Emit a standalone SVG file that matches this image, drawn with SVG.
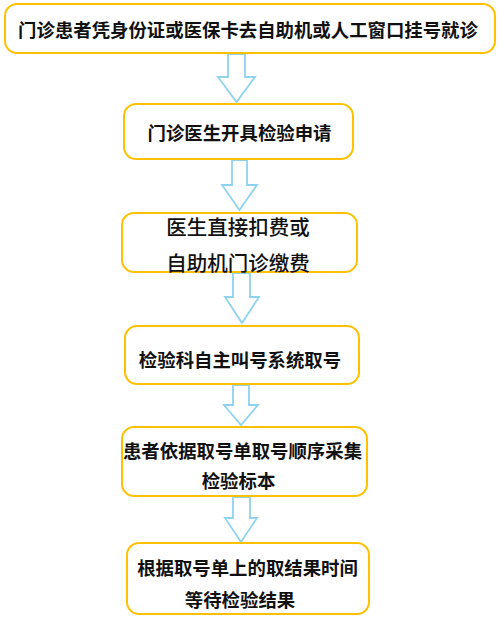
<svg xmlns="http://www.w3.org/2000/svg" width="500" height="620" viewBox="0 0 500 620">
<style>
.box{fill:#fff;stroke:#FFC000;stroke-width:2}
.arr{fill:#fff;stroke:#8ED3EE;stroke-width:1.8;stroke-linejoin:miter}
text{font-family:"Noto Sans CJK SC","Noto Sans",sans-serif;font-size:18.4px;font-weight:bold;fill:#111;text-anchor:middle;dominant-baseline:central}
.reg{font-size:20.5px;font-weight:500}
</style>
<rect width="500" height="620" fill="#fff"/>
<g id="connectors">
<polygon class="arr" points="228,54 245,54 245,77 255,77 236.5,102 218,77 228,77"/>
<polygon class="arr" points="232,160 247,160 247,185 257,185 239.5,210 222,185 232,185"/>
<polygon class="arr" points="233,273 250,273 250,297 259,297 242,323 225,297 233,297"/>
<polygon class="arr" points="233,385 249,385 249,405 258,405 241,425 224,405 233,405"/>
<polygon class="arr" points="233,497 250,497 250,518 257,518 241,542 225,518 233,518"/>
</g>
<g id="n1"><rect class="box" x="5" y="4" width="490" height="49" rx="12"/><text x="248" y="29">门诊患者凭身份证或医保卡去自助机或人工窗口挂号就诊</text></g>
<g id="n2"><rect class="box" x="124" y="104" width="229" height="55" rx="12"/><text x="239.5" y="132">门诊医生开具检验申请</text></g>
<g id="n3"><rect class="box" x="122" y="213" width="235" height="59" rx="12"/><text class="reg" x="238" y="226">医生直接扣费或</text><text class="reg" x="238" y="262">自助机门诊缴费</text></g>
<g id="n4"><rect class="box" x="125" y="326" width="234" height="58" rx="12"/><text x="240" y="359">检验科自主叫号系统取号</text></g>
<g id="n5"><rect class="box" x="122" y="427" width="245" height="69" rx="12"/><text x="242.5" y="450">患者依据取号单取号顺序采集</text><text x="238.5" y="480">检验标本</text></g>
<g id="n6"><rect class="box" x="127" y="543" width="242" height="71" rx="12"/><text x="247.5" y="567">根据取号单上的取结果时间</text><text x="240" y="599">等待检验结果</text></g>
</svg>
